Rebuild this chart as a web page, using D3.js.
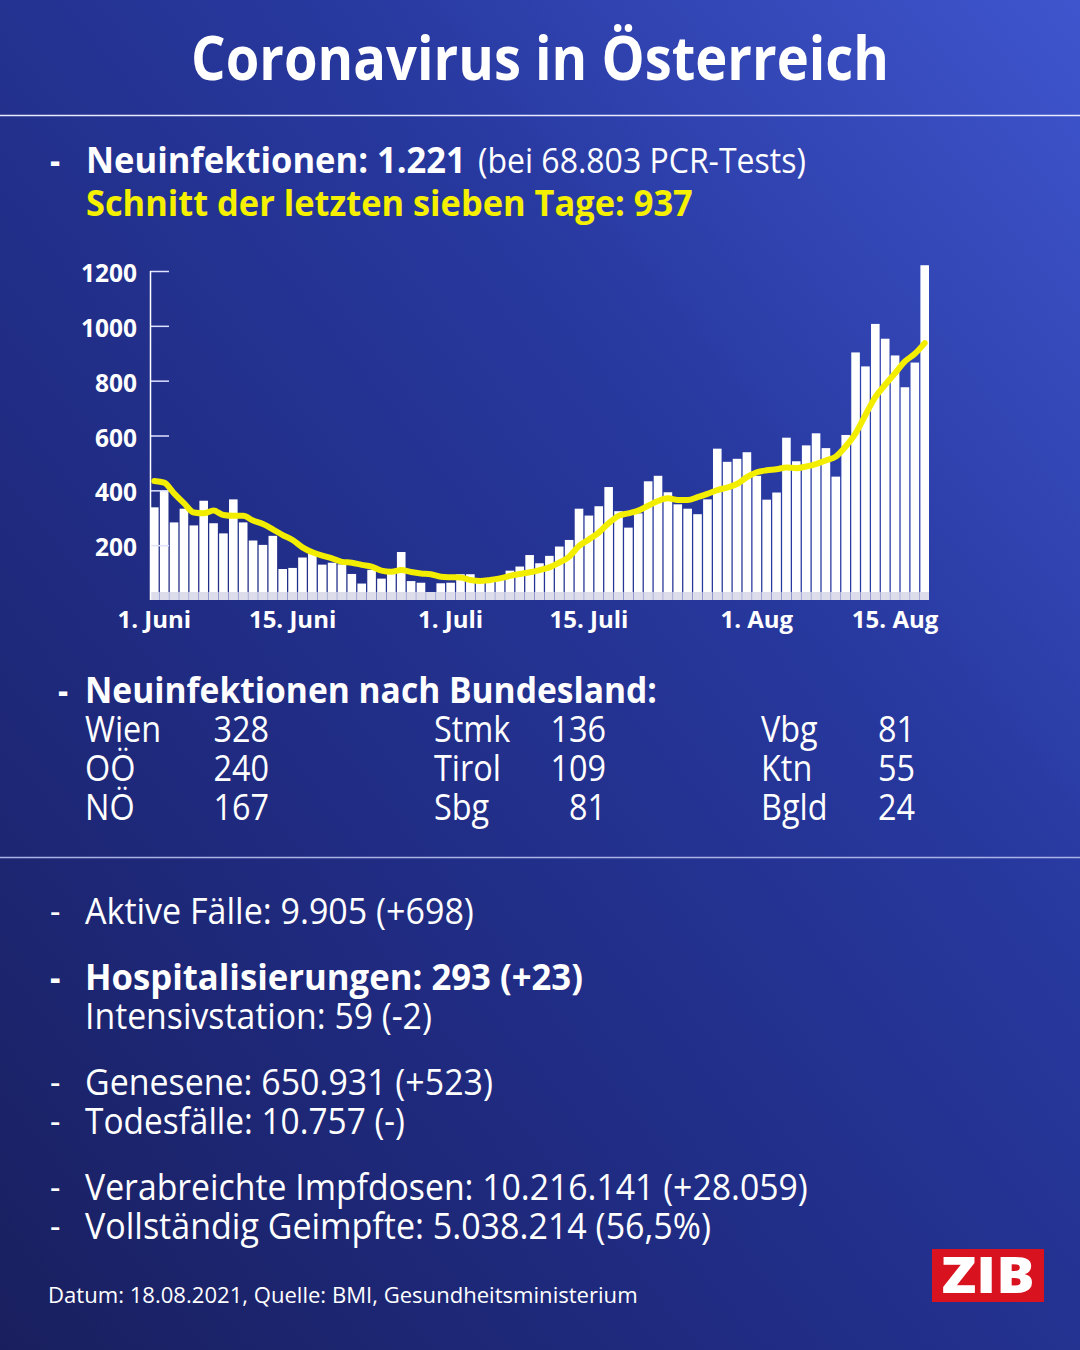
<!DOCTYPE html>
<html>
<head>
<meta charset="utf-8">
<script src="https://cdn.jsdelivr.net/npm/d3@7"></script>
<style>
  html, body { margin: 0; padding: 0; background: #1c2470; }
  svg { display: block; font-family: 'Open Sans', 'Noto Sans', sans-serif; }
</style>
</head>
<body>
<div id="chart"></div>
<script>

// Neuinfektionen per day, 1. Juni - 18. Aug 2021
var casesJune = [338, 399, 283, 333, 272, 362, 280, 243, 367, 283, 217, 201, 234, 113, 117,
                 155, 170, 129, 136, 130, 95, 60, 110, 78, 97, 175, 69, 63, 29, 61];
var casesJuly = [63, 94, 94, 67, 73, 85, 107, 122, 164, 134, 161, 195, 219, 333, 308, 342,
                 412, 324, 264, 316, 433, 453, 393, 349, 333, 313, 367, 552, 504, 515, 539];
var casesAug  = [453, 366, 392, 592, 506, 564, 608, 554, 450, 602, 903, 852, 1007, 953, 892,
                 776, 866, 1221];

// 7-Tage-Schnitt (yellow line)
var avgJune = [434, 428, 389, 353, 319, 316, 326, 310, 307, 307, 290, 277, 258, 237, 219,
               192, 174, 162, 152, 139, 136, 128, 122, 107, 103, 109, 102, 97, 94, 85];
var avgJuly = [83, 82, 73, 69, 73, 79, 88, 95, 101, 109, 119, 136, 158, 197, 221, 246,
               280, 307, 316, 326, 344, 361, 371, 365, 365, 375, 387, 401, 410, 423, 448];
var avgAug  = [466, 473, 477, 483, 481, 487, 496, 509, 523, 560, 608, 675, 740, 785, 827,
               870, 898, 937];

var startDate = new Date(2021, 5, 1);
var endDate   = new Date(2021, 7, 19);

var yTicks = [200, 400, 600, 800, 1000, 1200];
var xTickDates  = [new Date(2021, 5, 1), new Date(2021, 5, 15), new Date(2021, 6, 1),
                   new Date(2021, 6, 15), new Date(2021, 7, 1), new Date(2021, 7, 15)];
var xTickLabels = ['1. Juni', '15. Juni', '1. Juli', '15. Juli', '1. Aug', '15. Aug'];

var bundeslaender = [
  ['Wien', 328], ['OÖ', 240], ['NÖ', 167],
  ['Stmk', 136], ['Tirol', 109], ['Sbg', 81],
  ['Vbg', 81], ['Ktn', 55], ['Bgld', 24]
];

var W = 1080, H = 1350;

var svg = d3.select('#chart').append('svg')
  .attr('width', W)
  .attr('height', H);

// background gradient
var defs = svg.append('defs');
var grad = defs.append('linearGradient')
  .attr('id', 'bg')
  .attr('x1', 1).attr('y1', 0)
  .attr('x2', 0).attr('y2', 1);
grad.append('stop').attr('offset', 0).attr('stop-color', '#3f55cd');
grad.append('stop').attr('offset', 0.35).attr('stop-color', '#27389e');
grad.append('stop').attr('offset', 0.7).attr('stop-color', '#1f2a7e');
grad.append('stop').attr('offset', 1).attr('stop-color', '#191f5e');

svg.append('rect')
  .attr('width', W).attr('height', H)
  .attr('fill', 'url(#bg)');

// text helper: squeeze Open Sans horizontally to the target width
var put = function(o) {
  var t = svg.append('text')
    .attr('font-size', o.size)
    .attr('font-weight', o.weight || 400)
    .attr('fill', o.fill || '#fff')
    .attr('text-anchor', o.anchor || 'start')
    .text(o.text);
  var sx = o.sx || 0.9;
  if (o.width) {
    sx = o.width / t.node().getComputedTextLength();
  }
  t.attr('transform', 'translate(' + o.x + ',' + o.y + ') scale(' + sx + ',1)');
  return t;
};

// title + separator
put({ x: 540, y: 80, text: 'Coronavirus in Österreich', size: 60, weight: 700, anchor: 'middle', width: 698 });

svg.append('line')
  .attr('x1', 0).attr('x2', W)
  .attr('y1', 115.5).attr('y2', 115.5)
  .attr('stroke', '#e8ebff').attr('stroke-width', 1.5);

put({ x: 50, y: 173, text: '-', size: 35, weight: 700 });
put({ x: 86, y: 173, text: 'Neuinfektionen: 1.221', size: 35, weight: 700, width: 380 });
put({ x: 478, y: 173, text: '(bei 68.803 PCR-Tests)', size: 35, width: 328 });
put({ x: 86, y: 216, text: 'Schnitt der letzten sieben Tage: 937', size: 35, weight: 700, fill: '#f5f000', width: 607 });

// chart
var days = d3.timeDay.range(startDate, endDate);
var cases = casesJune.concat(casesJuly, casesAug);
var avg = avgJune.concat(avgJuly, avgAug);
var data = days.map(function(d, i) { return { date: d, value: cases[i], avg: avg[i] }; });

var x = d3.scaleBand()
  .domain(days.map(function(d) { return +d; }))
  .range([150, 929])
  .paddingInner(0.13)
  .paddingOuter(0);

var y = d3.scaleLinear()
  .domain([0, 1200])
  .range([600, 271]);

var chart = svg.append('g').attr('class', 'chart');

// light strip at the foot of the bars
chart.append('rect')
  .attr('x', 150).attr('y', y(0) - 8)
  .attr('width', 929 - 150).attr('height', 8)
  .attr('fill', '#9298cf');

chart.selectAll('.bar')
  .data(data)
.enter().append('rect')
  .attr('class', 'bar')
  .attr('x', function(d) { return x(+d.date); })
  .attr('y', function(d) { return y(d.value); })
  .attr('width', x.bandwidth())
  .attr('height', function(d) { return y(0) - y(d.value); })
  .attr('fill', '#fff');

chart.selectAll('.bar-foot')
  .data(data)
.enter().append('rect')
  .attr('class', 'bar-foot')
  .attr('x', function(d) { return x(+d.date); })
  .attr('y', y(0) - 8)
  .attr('width', x.bandwidth())
  .attr('height', 8)
  .attr('fill', '#dcdcea');

// y axis
var yAxis = chart.append('g')
  .attr('transform', 'translate(150,0)')
  .call(d3.axisRight(y).tickValues(yTicks).tickSize(19).tickFormat(''));
yAxis.select('.domain').remove();
yAxis.selectAll('.tick line')
  .attr('stroke', '#dfe2ff')
  .attr('stroke-width', 1.5);

chart.append('line')
  .attr('x1', 150.5).attr('x2', 150.5)
  .attr('y1', y(1200)).attr('y2', y(0))
  .attr('stroke', '#fff').attr('stroke-width', 1.5);

yTicks.forEach(function(v) {
  put({ x: 137, y: y(v) + 11, text: String(v), size: 25, weight: 700, anchor: 'end', sx: 0.98 });
});

// x labels
xTickDates.forEach(function(d, i) {
  put({ x: x(+d) + x.bandwidth() / 2, y: 628, text: xTickLabels[i], size: 24, weight: 700, anchor: 'middle', sx: 1 });
});

// 7-day average
var line = d3.line()
  .x(function(d) { return x(+d.date) + x.bandwidth() / 2; })
  .y(function(d) { return y(d.avg); })
  .curve(d3.curveMonotoneX);

chart.append('path')
  .datum(data)
  .attr('d', line)
  .attr('fill', 'none')
  .attr('stroke', '#f3ee00')
  .attr('stroke-width', 6)
  .attr('stroke-linejoin', 'round')
  .attr('stroke-linecap', 'round');

// Bundesländer
put({ x: 58, y: 703, text: '-', size: 35, weight: 700 });
put({ x: 85, y: 703, text: 'Neuinfektionen nach Bundesland:', size: 35, weight: 700, width: 572 });

var colName = [85, 434, 761];
var colNum  = [269, 606, 915];
bundeslaender.forEach(function(b, i) {
  var c = Math.floor(i / 3), r = i % 3;
  var yy = 742 + r * 39;
  put({ x: colName[c], y: yy, text: b[0], size: 36 });
  put({ x: colNum[c], y: yy, text: String(b[1]), size: 36, anchor: 'end' });
});

svg.append('line')
  .attr('x1', 0).attr('x2', W)
  .attr('y1', 857.5).attr('y2', 857.5)
  .attr('stroke', '#aab2e6').attr('stroke-width', 1.5);

// lower list
var rows = [
  { y: 924,  t: 'Aktive Fälle: 9.905 (+698)', w: 389, dash: true },
  { y: 990,  t: 'Hospitalisierungen: 293 (+23)', w: 498, dash: true, bold: true },
  { y: 1029, t: 'Intensivstation: 59 (-2)', w: 347 },
  { y: 1095, t: 'Genesene: 650.931 (+523)', w: 408, dash: true },
  { y: 1134, t: 'Todesfälle: 10.757 (-)', w: 320, dash: true },
  { y: 1200, t: 'Verabreichte Impfdosen: 10.216.141 (+28.059)', w: 723, dash: true },
  { y: 1239, t: 'Vollständig Geimpfte: 5.038.214 (56,5%)', w: 626, dash: true }
];
rows.forEach(function(r) {
  if (r.dash) put({ x: 50, y: r.y, text: '-', size: 36, weight: r.bold ? 700 : 400 });
  put({ x: 85, y: r.y, text: r.t, size: 36, weight: r.bold ? 700 : 400, width: r.w });
});

put({ x: 48, y: 1303, text: 'Datum: 18.08.2021, Quelle: BMI, Gesundheitsministerium', size: 22, width: 590 });

// ZIB logo
svg.append('rect')
  .attr('x', 932).attr('y', 1249)
  .attr('width', 112).attr('height', 53)
  .attr('fill', '#d8121f');
put({ x: 988, y: 1293, text: 'ZIB', size: 50, weight: 800, anchor: 'middle', width: 93 });

</script>
</body>
</html>
